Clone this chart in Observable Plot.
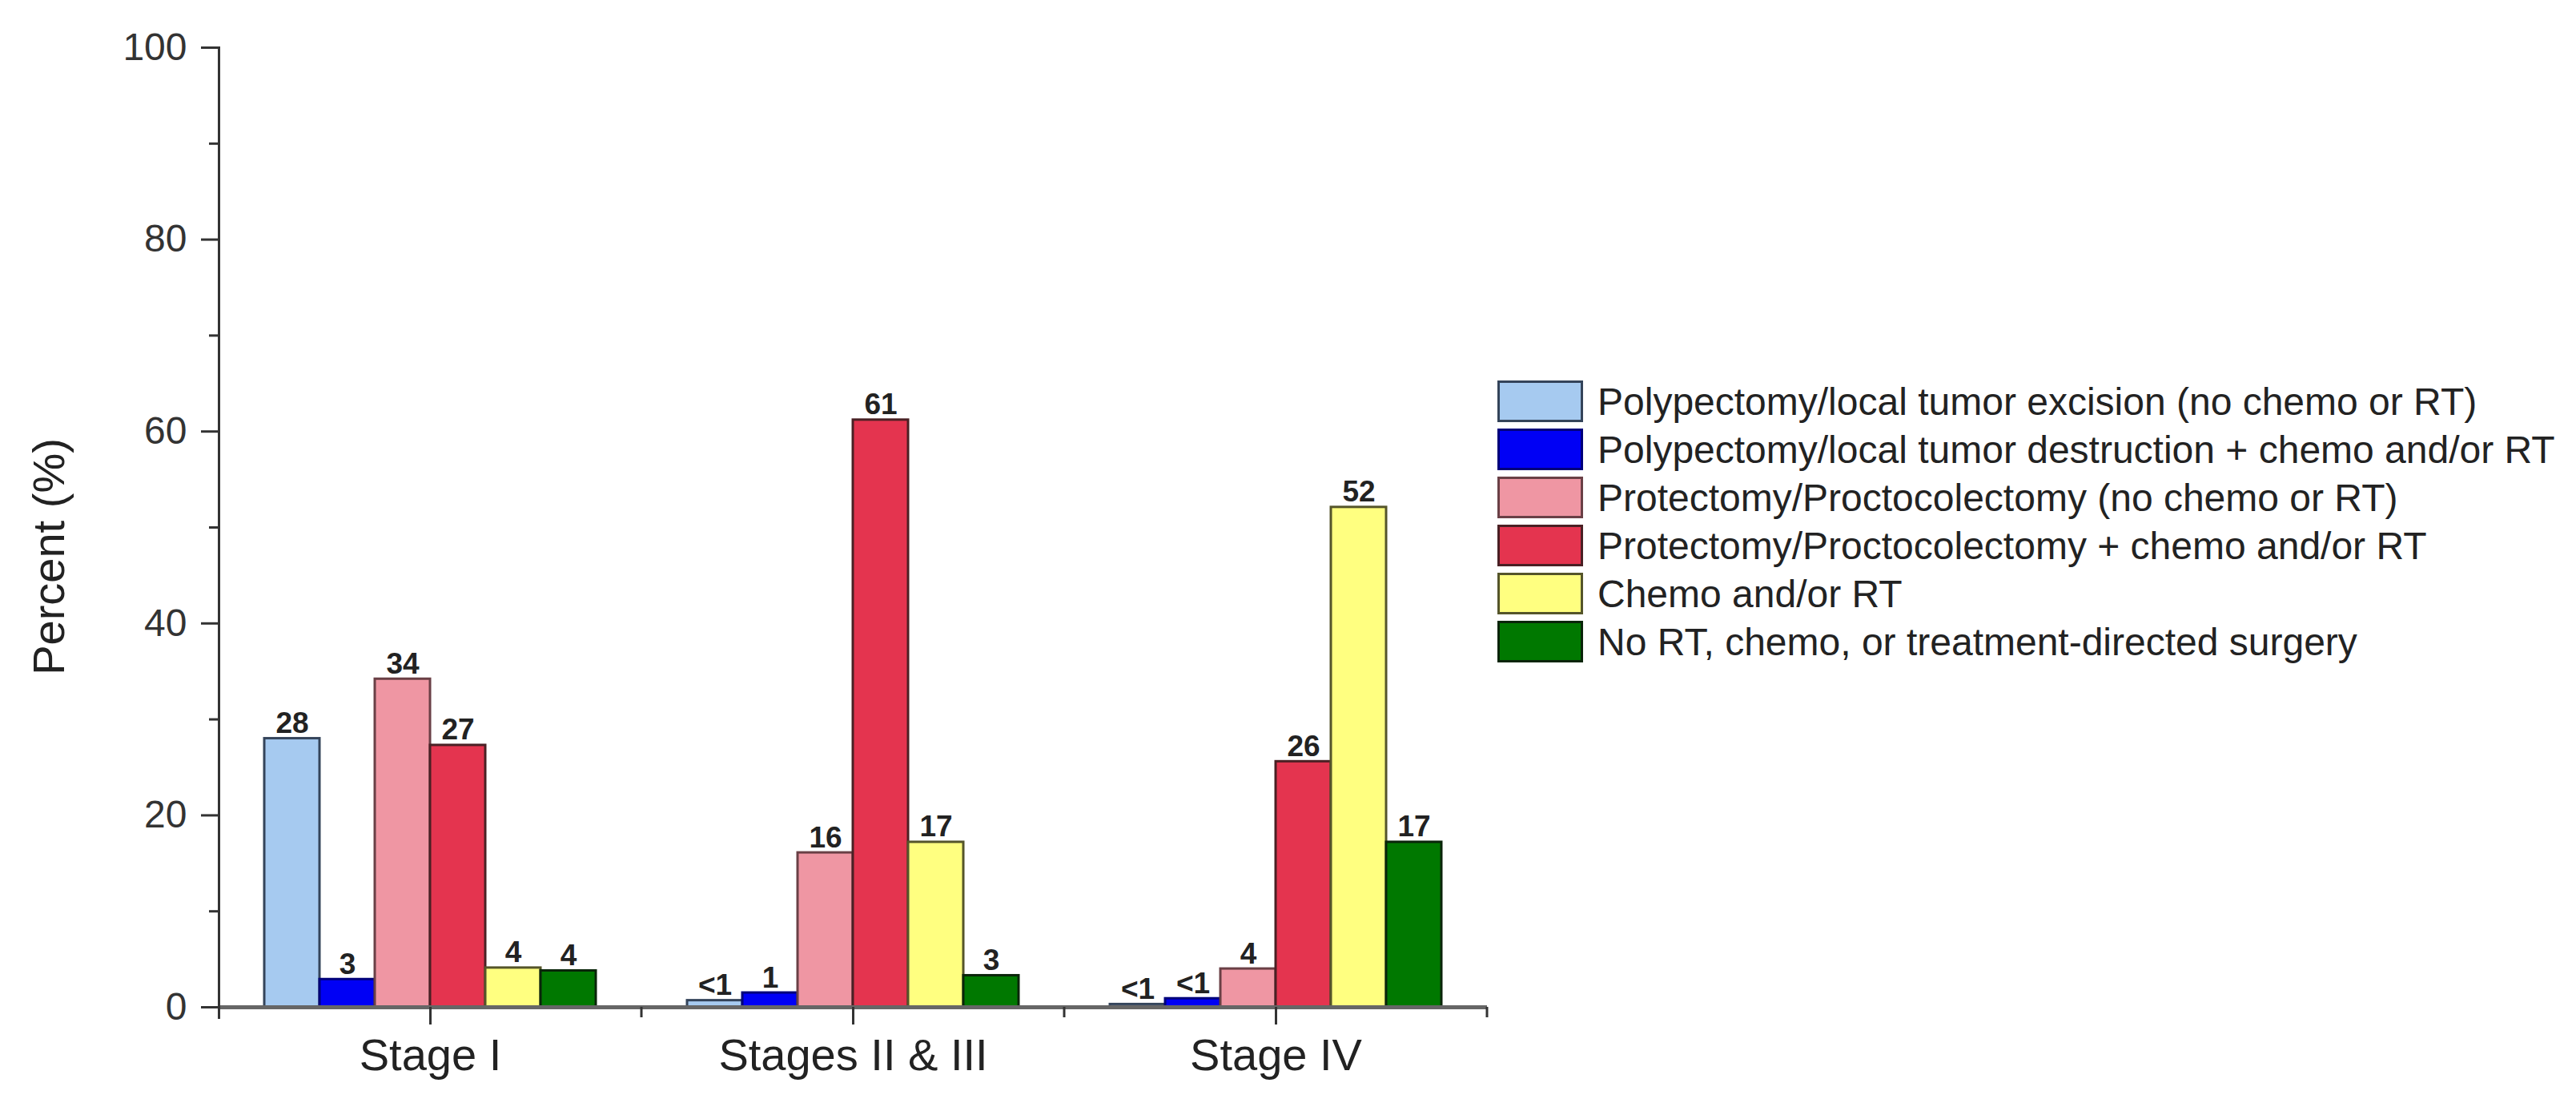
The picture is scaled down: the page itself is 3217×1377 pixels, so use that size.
<!DOCTYPE html>
<html>
<head>
<meta charset="utf-8">
<script src="https://cdn.jsdelivr.net/npm/d3@7"></script>
<script src="https://cdn.jsdelivr.net/npm/@observablehq/plot@0.6"></script>
<style>
html, body { margin: 0; padding: 0; background: #fff; }
#wrap { position: relative; width: 3217px; height: 1377px; font-family: "Liberation Sans", Arial, sans-serif; color: #222; }
#chart { position: absolute; left: 0; top: 0; }
#ytitle { position: absolute; left: 61px; top: 695px; transform: translate(-50%, -50%) rotate(-90deg); font-size: 56px; white-space: nowrap; line-height: 1; color: #222; }
#legend { position: absolute; left: 1870px; top: 471px; }
.row { display: flex; align-items: center; height: 60px; }
.sw { box-sizing: border-box; width: 107px; height: 52px; border: 3px solid; margin-right: 18px; }
.lab { font-size: 48px; white-space: nowrap; color: #222; }
</style>
</head>
<body>
<div id="wrap">
  <div id="chart"></div>
  <div id="ytitle">Percent (%)</div>
  <div id="legend"></div>
</div>
<script>
const stages = ["Stage I", "Stages II & III", "Stage IV"];
const treatments = [
  "Polypectomy/local tumor excision (no chemo or RT)",
  "Polypectomy/local tumor destruction + chemo and/or RT",
  "Protectomy/Proctocolectomy (no chemo or RT)",
  "Protectomy/Proctocolectomy + chemo and/or RT",
  "Chemo and/or RT",
  "No RT, chemo, or treatment-directed surgery"
];
const stageIValues = [28, 2.9, 34.2, 27.3, 4.1, 3.8];
const stageIIIIIValues = [0.7, 1.5, 16.1, 61.2, 17.2, 3.3];
const stageIVValues = [0.3, 0.9, 4.0, 25.6, 52.1, 17.2];
const stageILabels = ["28", "3", "34", "27", "4", "4"];
const stageIIIIILabels = ["<1", "1", "16", "61", "17", "3"];
const stageIVLabels = ["<1", "<1", "4", "26", "52", "17"];
const fillColors = ["#a6caf0", "#0000f5", "#ef96a3", "#e4344f", "#ffff80", "#007800"];
const strokeColors = ["#34445a", "#00007a", "#6a4046", "#4a2024", "#55552a", "#0a250a"];
const yTicks = [0, 20, 40, 60, 80, 100];
const yMinorTicks = [10, 30, 50, 70, 90];

const valuesByStage = [stageIValues, stageIIIIIValues, stageIVValues];
const labelsByStage = [stageILabels, stageIIIIILabels, stageIVLabels];
const table = stages.flatMap((s, i) => treatments.map((t, j) => ({
  stage: s, treatment: t, value: valuesByStage[i][j], label: labelsByStage[i][j],
  fill: fillColors[j], stroke: strokeColors[j]
})));

function separators(index, scales) {
  const [, x1] = scales.x.range();
  const y0 = scales.y(0);
  const g = d3.create("svg:g").attr("stroke", "#333").attr("stroke-width", 3);
  g.append("line").attr("x1", x1).attr("x2", x1).attr("y1", y0).attr("y2", y0 + 13);
  return g.node();
}

const chart = Plot.plot({
  width: 1880,
  height: 1377,
  marginLeft: 272,
  marginRight: 22,
  marginTop: 59,
  marginBottom: 120,
  style: { fontFamily: "'Liberation Sans', Arial, sans-serif", fontSize: "48px", color: "#333", background: "transparent" },
  fx: { domain: stages, padding: 0, label: null },
  x: { domain: treatments, paddingInner: 0, paddingOuter: 0.776, axis: null },
  y: { domain: [0, 100] },
  color: { type: "identity" },
  marks: [
    Plot.barY(table, { fx: "stage", x: "treatment", y: "value", fill: "fill", stroke: "stroke", strokeWidth: 3 }),
    Plot.ruleY([0], { stroke: "#666", strokeWidth: 5 }),
    Plot.text(table, { fx: "stage", x: "treatment", y: "value", text: "label", dy: -7, lineAnchor: "bottom", fontWeight: "bold", fontSize: 37, fill: "#222" }),
    Plot.axisY({ ticks: yTicks, tickSize: 22, tickPadding: 18, fontSize: 48, strokeWidth: 3, stroke: "#333", fill: "#333", label: null, tickFormat: d => String(d) }),
    Plot.axisY({ ticks: yMinorTicks, tickSize: 12, strokeWidth: 3, stroke: "#333", label: null, tickFormat: () => "" }),
    Plot.axisFx({ anchor: "bottom", tickSize: 0, tickPadding: 39, fontSize: 56, fill: "#222", label: null }),
    Plot.frame({ anchor: "left", facetAnchor: "left", stroke: "#333", strokeWidth: 3, insetBottom: -13 }),
    Plot.ruleX([0], { x: null, y1: 0, y2: 0, insetBottom: -22, stroke: "#333", strokeWidth: 3 }),
    separators
  ]
});
document.getElementById("chart").appendChild(chart);

const legend = document.getElementById("legend");
treatments.forEach((t, j) => {
  const row = document.createElement("div");
  row.className = "row";
  const sw = document.createElement("div");
  sw.className = "sw";
  sw.style.background = fillColors[j];
  sw.style.borderColor = strokeColors[j];
  const lab = document.createElement("div");
  lab.className = "lab";
  lab.textContent = t;
  row.appendChild(sw);
  row.appendChild(lab);
  legend.appendChild(row);
});
</script>
</body>
</html>
